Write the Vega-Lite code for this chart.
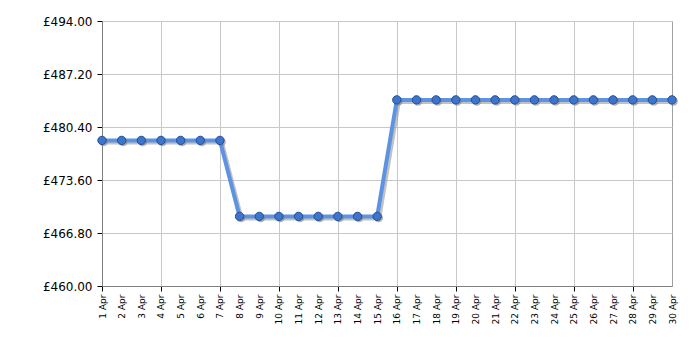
{
  "$schema": "https://vega.github.io/schema/vega-lite/v6.json",
  "width": 570,
  "height": 265,
  "autosize": "none",
  "padding": {"left": 102, "top": 21, "right": 28, "bottom": 64},
  "background": "white",
  "config": {
    "view": {"stroke": "#a0a0a0", "strokeWidth": 1},
    "axis": {"labelFont": "DejaVu Sans", "labelColor": "#000000", "domainColor": "#808080", "tickColor": "#000000", "gridColor": "#c8c8c8", "gridWidth": 1}
  },
  "data": {"values": [
    {"day": 1, "price": 478.68}, {"day": 2, "price": 478.68}, {"day": 3, "price": 478.68},
    {"day": 4, "price": 478.68}, {"day": 5, "price": 478.68}, {"day": 6, "price": 478.68},
    {"day": 7, "price": 478.68}, {"day": 8, "price": 468.93}, {"day": 9, "price": 468.93},
    {"day": 10, "price": 468.93}, {"day": 11, "price": 468.93}, {"day": 12, "price": 468.93},
    {"day": 13, "price": 468.93}, {"day": 14, "price": 468.93}, {"day": 15, "price": 468.93},
    {"day": 16, "price": 483.88}, {"day": 17, "price": 483.88}, {"day": 18, "price": 483.88},
    {"day": 19, "price": 483.88}, {"day": 20, "price": 483.88}, {"day": 21, "price": 483.88},
    {"day": 22, "price": 483.88}, {"day": 23, "price": 483.88}, {"day": 24, "price": 483.88},
    {"day": 25, "price": 483.88}, {"day": 26, "price": 483.88}, {"day": 27, "price": 483.88},
    {"day": 28, "price": 483.88}, {"day": 29, "price": 483.88}, {"day": 30, "price": 483.88}
  ]},
  "encoding": {
    "x": {"field": "day", "type": "quantitative", "scale": {"domain": [1, 30], "nice": false, "zero": false},
      "axis": {"title": null, "values": [1,2,3,4,5,6,7,8,9,10,11,12,13,14,15,16,17,18,19,20,21,22,23,24,25,26,27,28,29,30],
        "grid": true,
        "gridOpacity": {"condition": {"test": "datum.value % 3 == 1", "value": 1}, "value": 0},
        "tickOpacity": {"condition": {"test": "datum.value % 3 == 1", "value": 1}, "value": 0},
        "tickSize": 5, "labelAngle": -90, "labelAlign": "right", "labelBaseline": "middle",
        "labelFontSize": 9, "labelPadding": 3, "labelExpr": "datum.value + ' Apr'"}},
    "y": {"field": "price", "type": "quantitative", "scale": {"domain": [460, 494], "nice": false, "zero": false},
      "axis": {"title": null, "values": [460, 466.8, 473.6, 480.4, 487.2, 494], "grid": true, "tickSize": 5, "labelFontSize": 12, "labelPadding": 5,
        "labelExpr": "'£' + format(datum.value, '.2f')"}}
  },
  "layer": [
    {
      "mark": {"type": "line", "stroke": "#9a9a9a", "strokeWidth": 4, "opacity": 0.6, "xOffset": 2, "yOffset": 2},
      "encoding": {}
    },
    {
      "mark": {"type": "line", "stroke": "#5c93e3", "strokeWidth": 4},
      "encoding": {}
    },
    {
      "mark": {"type": "point", "filled": true, "color": "#808080", "opacity": 0.6, "size": 75, "xOffset": 1.5, "yOffset": 1.5},
      "encoding": {}
    },
    {
      "mark": {"type": "point", "filled": true, "fill": "#3d74cc", "stroke": "#234f97", "strokeWidth": 1, "opacity": 1, "size": 70},
      "encoding": {}
    }
  ]
}
